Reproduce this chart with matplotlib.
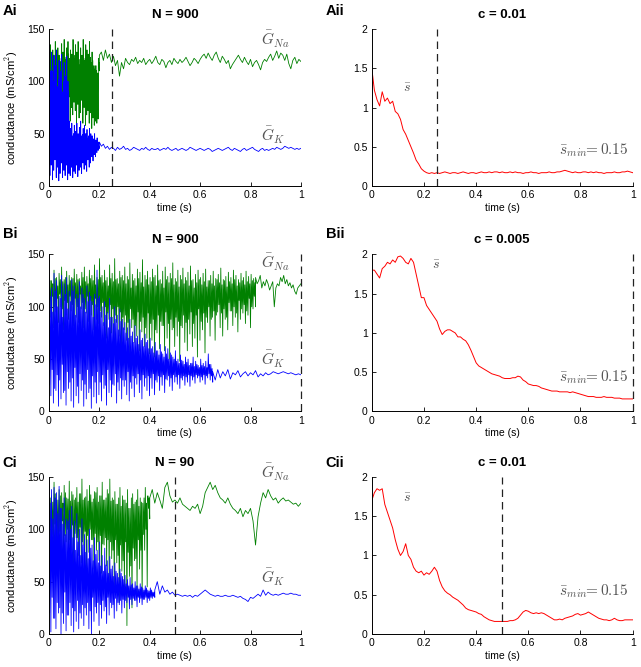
import numpy as np
import matplotlib
matplotlib.use('Agg')
import matplotlib.pyplot as plt

plt.rcParams['font.family'] = ['Liberation Sans', 'DejaVu Sans']
plt.rcParams['mathtext.fontset'] = 'cm'

# ---------------- data ----------------
# noisy stretches are stored as four interleaved lists: upper spikes, lower spikes,
# and the upper / lower edge of the dense core in between
# row A (N = 900, c = 0.01)
ai_na_hi = [128, 135, 112, 130, 120, 138, 110, 132, 125, 118, 136, 128, 140, 115, 132, 138, 122, 130, 126, 140,
            118, 135, 128, 138, 112, 132, 125, 140, 120, 135, 130, 126, 138, 118, 128, 110, 105, 115, 100, 122]
ai_na_lo = [70, 55, 80, 60, 75, 65, 85, 60, 70, 90, 65, 75, 60, 80, 70, 85, 62, 75, 68, 80,
            72, 60, 78, 65, 70, 82, 60, 75, 58, 68, 72, 60, 70, 55, 65, 58, 62, 60, 64, 110]
ai_na_mhi = [118, 122, 115, 125, 120, 118, 124, 116, 122, 119, 125, 117, 121, 123, 118, 126, 120, 124, 117, 122,
             125, 119, 123, 116, 121, 124, 118, 122, 120, 125, 117, 121, 123, 118, 120, 115, 112, 110, 108, 118]
ai_na_mlo = [95, 100, 92, 98, 104, 90, 96, 102, 94, 88, 98, 92, 86, 95, 90, 84, 92, 88, 82, 90,
             85, 80, 88, 84, 78, 86, 82, 90, 80, 85, 78, 88, 82, 76, 80, 74, 78, 72, 76, 115]
ai_na_calm = [125, 128, 120, 130, 122, 126, 118, 124, 115, 120, 105, 118, 112, 122, 118, 116, 121, 119, 123, 117,
              120, 118, 122, 116, 119, 121, 117, 120, 124, 118, 116, 121, 119, 113, 118, 120, 116, 122, 119, 117,
              121, 118, 120, 123, 119, 115, 118, 122, 120, 117, 121, 124, 126, 122, 127, 123, 120, 125, 128, 122,
              118, 124, 121, 117, 120, 112, 116, 119, 122, 125, 121, 118, 123, 119, 116, 121, 114, 118, 120, 116,
              111, 118, 121, 119, 123, 126, 120, 124, 129, 122, 127, 125, 120, 126, 117, 112, 120, 123, 117, 121, 119]
ai_k_hi = [135, 110, 128, 100, 125, 115, 130, 95, 120, 108, 126, 90, 118, 105, 124, 100, 62, 55, 60, 48,
           58, 52, 60, 50, 56, 62, 48, 55, 58, 50, 54, 46, 55, 50, 48, 45, 50, 44, 46, 42]
ai_k_lo = [10, 20, 6, 15, 25, 8, 18, 5, 12, 22, 8, 15, 10, 20, 6, 12, 10, 18, 8, 14,
           12, 20, 9, 15, 18, 12, 22, 16, 20, 14, 25, 18, 22, 28, 24, 30, 28, 32, 34, 36]
ai_k_mhi = [105, 95, 110, 90, 100, 108, 85, 102, 96, 110, 88, 100, 92, 105, 98, 90, 48, 52, 45, 50,
            46, 52, 44, 48, 50, 45, 49, 43, 47, 50, 44, 48, 42, 46, 44, 42, 43, 40, 41, 38]
ai_k_mlo = [30, 45, 25, 40, 35, 28, 50, 32, 38, 26, 42, 30, 36, 28, 44, 34, 28, 24, 32, 26,
            30, 22, 28, 34, 26, 30, 24, 32, 28, 30, 26, 33, 30, 32, 28, 34, 32, 33, 35, 36]
ai_k_calm = [42, 38, 40, 36, 38, 35, 37, 36, 34, 37, 35, 36, 38, 35, 36, 34, 35, 37, 36, 35,
             34, 36, 35, 37, 35, 34, 36, 35, 35, 36, 34, 35, 36, 35, 37, 35, 34, 35, 36, 34,
             35, 36, 35, 34, 35, 37, 36, 35, 34, 35, 36, 35, 34, 35, 36, 35, 33, 34, 35, 36,
             35, 34, 35, 36, 37, 35, 34, 36, 35, 34, 33, 35, 36, 34, 35, 36, 37, 35, 34, 33,
             35, 36, 34, 35, 34, 35, 36, 35, 37, 36, 35, 36, 38, 37, 36, 37, 36, 35, 36, 35, 36]
aii_s = [1.5, 1.22, 1.1, 1.02, 1.2, 1.08, 1.12, 1.05, 1.08, 0.95, 0.92, 0.85, 0.72, 0.66, 0.58, 0.5, 0.42, 0.33,
         0.28, 0.22, 0.19, 0.17, 0.16, 0.17, 0.16, 0.17, 0.16, 0.17, 0.18, 0.17, 0.16, 0.17, 0.17, 0.16, 0.17,
         0.18, 0.17, 0.16, 0.17, 0.17, 0.16, 0.17, 0.18, 0.17, 0.17, 0.18, 0.17, 0.18, 0.18, 0.17, 0.18, 0.17,
         0.17, 0.18, 0.17, 0.18, 0.17, 0.17, 0.16, 0.17, 0.17, 0.18, 0.17, 0.17, 0.16, 0.17, 0.17, 0.17, 0.18,
         0.17, 0.17, 0.18, 0.18, 0.19, 0.2, 0.19, 0.18, 0.17, 0.18, 0.17, 0.17, 0.18, 0.18, 0.17, 0.18, 0.17,
         0.18, 0.17, 0.17, 0.16, 0.17, 0.17, 0.17, 0.18, 0.17, 0.17, 0.18, 0.18, 0.19, 0.18, 0.17]

# row B (N = 900, c = 0.005)
bi_na_hi = [130, 125, 135, 128, 132, 138, 126, 134, 130, 128, 136, 131, 127, 133, 138, 129, 135, 130, 140, 128,
            146, 130, 135, 128, 140, 132, 146, 127, 134, 130, 138, 129, 142, 131, 127, 136, 133, 145, 130, 134,
            128, 136, 130, 140, 126, 134, 138, 129, 132, 142, 127, 135, 130, 137, 128, 133, 139, 126, 131, 135,
            128, 132, 136, 125, 130, 134, 127, 131, 137, 126, 129, 133, 128, 135, 130, 126, 132, 128, 134, 129, 131, 127]
bi_na_lo = [90, 80, 95, 85, 100, 78, 92, 88, 96, 82, 90, 85, 98, 80, 94, 86, 92, 78, 88, 84,
            90, 82, 70, 88, 75, 65, 85, 72, 60, 78, 68, 55, 80, 66, 72, 58, 76, 62, 70, 55,
            68, 52, 75, 60, 82, 58, 70, 50, 78, 62, 72, 48, 80, 66, 58, 74, 62, 70, 52, 68,
            78, 56, 85, 72, 90, 68, 95, 80, 72, 88, 78, 96, 82, 90, 76, 88, 94, 84, 92, 80, 98, 100]
bi_na_mhi = [125, 122, 127, 120, 126, 124, 128, 121, 125, 127, 123, 126, 120, 128, 124, 122, 127, 125, 121, 126,
             128, 123, 125, 120, 127, 124, 126, 122, 128, 125, 122, 126, 118, 125, 120, 127, 123, 119, 126, 121,
             124, 128, 120, 125, 122, 118, 126, 123, 127, 121, 124, 119, 126, 122, 125, 120, 125, 118, 123, 126,
             121, 124, 119, 125, 122, 120, 126, 123, 121, 125, 119, 124, 122, 126, 120, 123, 125, 121, 124, 122, 125, 123]
bi_na_mlo = [105, 110, 100, 108, 112, 98, 106, 104, 110, 102, 108, 100, 112, 104, 98, 110, 106, 102, 108, 100,
             96, 104, 100, 94, 102, 98, 92, 100, 95, 90, 92, 85, 98, 88, 82, 95, 86, 90, 80, 94,
             84, 88, 78, 92, 86, 82, 95, 84, 88, 80, 90, 86, 82, 92, 85, 88, 95, 84, 92, 98,
             86, 94, 90, 100, 88, 96, 92, 102, 94, 98, 90, 104, 96, 100, 94, 106, 98, 102, 96, 108, 100, 110]
bi_na_calm = [128, 122, 125, 130, 118, 124, 120, 126, 122, 116, 120, 124, 100, 118, 122, 120, 128, 124, 130, 122,
              126, 120, 123, 118, 121, 115, 112, 118, 120, 122]
bi_k_hi = [128, 118, 132, 125, 110, 130, 122, 128, 115, 126, 120, 112, 124, 118, 108, 120, 114, 105, 112, 135,
           110, 100, 105, 95, 108, 90, 100, 92, 98, 88, 85, 80, 88, 76, 82, 72, 78, 70, 74, 68,
           70, 62, 66, 58, 64, 55, 62, 60, 56, 52, 58, 50, 54, 48, 52, 50, 46, 52, 48, 44, 50, 46, 48, 55, 45]
bi_k_lo = [15, 8, 20, 5, 12, 18, 6, 22, 10, 4, 15, 8, 20, 5, 12, 18, 3, 14, 8, 16,
           10, 22, 6, 18, 14, 25, 8, 20, 12, 24, 16, 10, 22, 14, 26, 18, 12, 24, 20, 15,
           22, 16, 28, 20, 25, 18, 30, 24, 20, 28, 26, 22, 30, 25, 28, 24, 30, 27, 32, 28, 30, 26, 32, 30, 28]
bi_k_mhi = [110, 95, 115, 100, 108, 90, 112, 98, 105, 115, 92, 108, 100, 112, 95, 105, 110, 90, 102, 108,
            95, 85, 92, 80, 90, 84, 88, 78, 86, 80, 75, 70, 72, 66, 70, 64, 68, 62, 66, 60,
            60, 56, 58, 54, 57, 52, 55, 50, 54, 50, 48, 46, 49, 45, 47, 44, 46, 43, 45, 42, 44, 43, 42, 45, 41]
bi_k_mlo = [25, 40, 22, 35, 30, 45, 20, 38, 28, 32, 42, 24, 36, 30, 26, 40, 22, 34, 28, 38,
            28, 35, 25, 40, 30, 26, 36, 28, 32, 30, 30, 38, 28, 34, 32, 36, 30, 35, 32, 34,
            32, 36, 30, 34, 33, 35, 31, 34, 32, 35, 33, 35, 32, 34, 33, 35, 34, 33, 35, 34, 33, 35, 34, 36, 34]
bi_k_calm = [38, 30, 40, 32, 38, 34, 40, 31, 37, 35, 39, 33, 36, 38, 34, 37, 35, 39, 33, 36,
             34, 37, 35, 36, 38, 37, 36, 37, 38, 37, 36, 37, 36, 35, 36, 35]
bii_s = [1.8, 1.8, 1.75, 1.7, 1.82, 1.85, 1.9, 1.88, 1.93, 1.9, 1.97, 1.98, 1.95, 1.9, 1.88, 1.95, 1.9, 1.75,
         1.6, 1.45, 1.45, 1.35, 1.3, 1.25, 1.2, 1.15, 1.05, 0.98, 1.02, 1.04, 1.04, 1.02, 1.0, 0.95, 0.95, 0.92,
         0.9, 0.85, 0.78, 0.7, 0.62, 0.58, 0.56, 0.54, 0.52, 0.5, 0.48, 0.47, 0.46, 0.45, 0.43, 0.42, 0.42, 0.42,
         0.43, 0.43, 0.45, 0.44, 0.4, 0.38, 0.35, 0.34, 0.33, 0.33, 0.32, 0.3, 0.29, 0.28, 0.27, 0.26, 0.26, 0.26,
         0.25, 0.25, 0.25, 0.25, 0.24, 0.25, 0.24, 0.23, 0.22, 0.21, 0.2, 0.19, 0.19, 0.19, 0.18, 0.18, 0.18,
         0.19, 0.18, 0.18, 0.18, 0.17, 0.17, 0.17, 0.16, 0.16, 0.16, 0.16, 0.16]

# row C (N = 90, c = 0.01)
ci_na_hi = [140, 132, 145, 128, 138, 135, 142, 130, 146, 136, 128, 140, 134, 148, 130, 138, 142, 126, 136, 140,
            132, 145, 128, 138, 148, 130, 136, 124, 140, 132, 128, 138, 120, 134, 126, 138, 130, 125, 140, 132]
ci_na_lo = [70, 85, 60, 90, 75, 65, 88, 70, 80, 60, 92, 75, 68, 85, 55, 78, 90, 62, 80, 70,
            58, 85, 65, 50, 72, 40, 68, 30, 60, 45, 8, 55, 25, 70, 40, 62, 35, 80, 45, 110]
ci_na_mhi = [130, 126, 134, 128, 132, 125, 135, 129, 127, 133, 130, 126, 134, 128, 131, 127, 133, 129, 135, 126,
             132, 128, 130, 134, 127, 128, 124, 130, 122, 128, 125, 120, 130, 124, 128, 122, 126, 130, 125, 130]
ci_na_mlo = [100, 95, 105, 92, 98, 108, 94, 100, 90, 104, 96, 92, 102, 88, 98, 94, 100, 90, 96, 88,
             94, 86, 92, 90, 88, 80, 90, 75, 85, 70, 88, 78, 65, 82, 72, 90, 80, 95, 100, 120]
ci_na_calm = [130, 138, 125, 135, 128, 120, 140, 145, 132, 126, 128, 125, 130, 124, 122, 120, 118, 122, 120, 124,
              115, 122, 135, 140, 145, 138, 142, 135, 130, 128, 125, 130, 124, 120, 118, 115, 120, 112, 118, 115,
              120, 108, 85, 112, 125, 135, 130, 138, 132, 128, 130, 125, 128, 130, 127, 128, 126, 124, 125, 122, 125]
ci_k_hi = [142, 138, 140, 135, 141, 120, 130, 110, 118, 122, 108, 115, 100, 110, 95, 90, 100, 85, 92, 80,
           88, 75, 82, 70, 74, 65, 68, 58, 62, 55, 56, 52, 54, 48, 50, 46, 48, 44, 46, 42, 44, 40]
ci_k_lo = [2, 15, 5, 20, 0, 10, 3, 18, 8, 2, 12, 5, 15, 8, 18, 5, 0, 12, 20, 8,
           15, 22, 10, 18, 25, 15, 22, 28, 20, 25, 30, 24, 28, 32, 26, 30, 28, 33, 30, 32, 34, 35]
ci_k_mhi = [125, 110, 130, 115, 120, 105, 95, 108, 100, 92, 80, 88, 75, 85, 78, 72, 82, 70, 76, 68,
            65, 60, 66, 58, 62, 55, 60, 54, 58, 52, 48, 46, 47, 44, 46, 43, 45, 42, 44, 41, 42, 40]
ci_k_mlo = [20, 35, 15, 30, 25, 20, 40, 18, 30, 25, 22, 32, 20, 28, 25, 30, 22, 35, 26, 30,
            28, 32, 26, 35, 30, 28, 34, 30, 32, 33, 32, 35, 33, 34, 32, 35, 34, 33, 35, 34, 35, 36]
ci_k_calm = [42, 50, 38, 46, 40, 42, 38, 40, 37, 38, 37, 36, 37, 36, 37, 35, 37, 36, 38, 40,
             42, 40, 38, 37, 36, 37, 36, 36, 37, 36, 36, 37, 36, 35, 36, 34, 33, 31, 35, 34,
             36, 38, 36, 42, 37, 40, 38, 37, 38, 37, 38, 39, 38, 38, 39, 38, 38, 37, 37]
cii_s = [1.7, 1.8, 1.85, 1.83, 1.85, 1.65, 1.55, 1.45, 1.35, 1.2, 1.08, 1.0, 1.05, 1.15, 1.0, 0.95, 0.85, 0.8,
         0.78, 0.8, 0.75, 0.78, 0.76, 0.8, 0.85, 0.8, 0.68, 0.6, 0.55, 0.52, 0.5, 0.47, 0.45, 0.43, 0.4, 0.37,
         0.33, 0.31, 0.3, 0.29, 0.28, 0.26, 0.25, 0.22, 0.2, 0.18, 0.17, 0.16, 0.16, 0.16, 0.16, 0.16, 0.16,
         0.17, 0.17, 0.18, 0.2, 0.24, 0.28, 0.3, 0.29, 0.27, 0.26, 0.27, 0.26, 0.27, 0.26, 0.24, 0.22, 0.2, 0.18,
         0.18, 0.19, 0.18, 0.2, 0.21, 0.22, 0.23, 0.25, 0.26, 0.24, 0.25, 0.26, 0.28, 0.26, 0.24, 0.22, 0.2,
         0.19, 0.18, 0.18, 0.17, 0.18, 0.2, 0.18, 0.17, 0.17, 0.18, 0.18, 0.18, 0.18]

rows = [
    dict(tag='A', N=900, c='0.01', split_na=0.2, split_k=0.2, stop=0.25,
         na=(ai_na_hi, ai_na_mlo, ai_na_mhi, ai_na_lo, ai_na_calm),
         k=(ai_k_hi, ai_k_mlo, ai_k_mhi, ai_k_lo, ai_k_calm), s=aii_s,
         na_lab=140, k_lab=48, s_lab=(0.12, 1.25), smin_y=0.45, label_px=15),
    dict(tag='B', N=900, c='0.005', split_na=0.82, split_k=0.65, stop=1.0,
         na=(bi_na_hi, bi_na_mlo, bi_na_mhi, bi_na_lo, bi_na_calm),
         k=(bi_k_hi, bi_k_mlo, bi_k_mhi, bi_k_lo, bi_k_calm), s=bii_s,
         na_lab=142, k_lab=50, s_lab=(0.23, 1.87), smin_y=0.44, label_px=238),
    dict(tag='C', N=90, c='0.01', split_na=0.4, split_k=0.42, stop=0.5,
         na=(ci_na_hi, ci_na_mlo, ci_na_mhi, ci_na_lo, ci_na_calm),
         k=(ci_k_hi, ci_k_mlo, ci_k_mhi, ci_k_lo, ci_k_calm), s=cii_s,
         na_lab=154, k_lab=54, s_lab=(0.12, 1.73), smin_y=0.55, label_px=467),
]


def trace(hi, mlo, mhi, lo, calm, split):
    # noisy part: spike up, core low, core high, spike down ... then the settled part
    noisy = np.column_stack((hi, mlo, mhi, lo)).ravel()
    t1 = np.linspace(0, split, len(noisy))
    t2 = np.linspace(split, 1, len(calm))
    return np.concatenate([t1, t2]), np.concatenate([noisy, calm])


def style(ax, ymax, yticks):
    ax.set_xlim(0, 1)
    ax.set_ylim(0, ymax)
    ax.spines['top'].set_visible(False)
    ax.spines['right'].set_visible(False)
    ax.tick_params(direction='in', length=3, labelsize=7.5, width=0.6, pad=3)
    ax.set_xticks([0, 0.2, 0.4, 0.6, 0.8, 1])
    ax.set_xticklabels(['0', '0.2', '0.4', '0.6', '0.8', '1'])
    ax.set_yticks(yticks)
    ax.set_xlabel('time (s)', fontsize=7.5, labelpad=2)
    for sp in ax.spines.values():
        sp.set_linewidth(0.7)


W, H = 641, 667
fig = plt.figure(figsize=(W / 100, H / 100), dpi=100)
bottoms = [0.7211, 0.3831, 0.0495]
txt_col = '#555555'
green, blue = '#008000', '#0000ff'

for r, b in zip(rows, bottoms):
    lab_y = 1 - r['label_px'] / H

    # left: conductances
    ax = fig.add_axes([0.0764, b, 0.393, 0.2354])
    t, g = trace(*r['na'], r['split_na'])
    ax.plot(t, g, color=green, lw=0.6)
    t, g = trace(*r['k'], r['split_k'])
    ax.plot(t, g, color=blue, lw=0.6)
    ax.plot([r['stop'], r['stop']], [0, 150], color='#222222', lw=0.9, ls=(0, (6, 4)), clip_on=False)
    style(ax, 150, [0, 50, 100, 150])
    ax.set_yticklabels(['0', '50', '100', '150'])
    ax.set_ylabel('conductance (mS/cm$^2$)', fontsize=8, labelpad=5)
    ax.set_title('N = %d' % r['N'], fontsize=9.5, fontweight='bold', pad=8)
    ax.text(0.84, r['na_lab'], r'$\bar{G}_{Na}$', fontsize=11, color=txt_col, va='center', clip_on=False)
    ax.text(0.84, r['k_lab'], r'$\bar{G}_{K}$', fontsize=11, color=txt_col, va='center')
    fig.text(0.004, lab_y, r['tag'] + 'i', fontsize=10.5, fontweight='bold')

    # right: mean s
    ax = fig.add_axes([0.580, b, 0.407, 0.2354])
    s = np.concatenate([[0.0], r['s']])
    ts = np.concatenate([[0.0], np.linspace(0, 1, len(r['s']))])
    ax.plot(ts, s, color='#ff0000', lw=0.7)
    ax.plot([r['stop'], r['stop']], [0, 2], color='#222222', lw=0.9, ls=(0, (6, 4)), clip_on=False)
    style(ax, 2, [0, 0.5, 1, 1.5, 2])
    ax.set_yticklabels(['0', '0.5', '1', '1.5', '2'])
    ax.set_title('c = ' + r['c'], fontsize=9.5, fontweight='bold', pad=8)
    ax.text(r['s_lab'][0], r['s_lab'][1], r'$\bar{s}$', fontsize=10, color=txt_col, va='center')
    ax.text(0.985, r['smin_y'], r'$\bar{s}_{min}\!\!=0.15$', fontsize=11, color=txt_col,
            va='center', ha='right')
    fig.text(0.508, lab_y, r['tag'] + 'ii', fontsize=10.5, fontweight='bold')

fig.savefig('out.png', dpi=100)
